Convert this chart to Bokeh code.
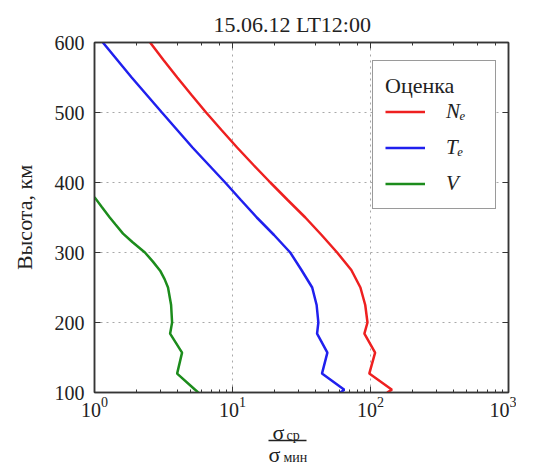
from bokeh.plotting import figure
from bokeh.layouts import column
from bokeh.models import (LogAxis, LinearAxis, Legend, LegendItem,
                          FixedTicker, Range1d, LogTicker)
from bokeh.core.properties import value
from bokeh.embed import file_html
from bokeh.resources import INLINE

# ---- data ----
alt_ne = [600, 575, 550, 525, 500, 475, 450, 425, 400, 375, 350, 325, 300, 275, 250, 225, 200,
          184, 157, 127, 104, 100]
ne = [2.53, 3.16, 3.98, 5.05, 6.44, 8.32, 10.8, 14.2, 18.8, 25.1, 33.7, 44.2, 57.3, 72.6, 84.5,
      91.6, 95.1, 90.3, 108, 98, 143, 132]

alt_te = [600, 550, 500, 450, 400, 375, 350, 325, 300, 275, 250, 225, 200,
          184, 157, 127, 104, 100]
te = [1.15, 1.86, 3.08, 5.13, 8.85, 11.5, 15.0, 20.0, 26.2, 31.6, 37.8, 40.7, 41.9,
      41.0, 48.7, 44.5, 64.6, 60.5]

alt_v = [379, 365, 350, 340, 327, 315, 300, 287, 274, 262, 250, 225, 200, 184, 157, 127, 104, 100]
v = [1.0, 1.13, 1.29, 1.42, 1.61, 1.88, 2.32, 2.65, 2.99, 3.22, 3.41, 3.59, 3.65, 3.53, 4.31,
     3.97, 5.36, 5.64]

series_labels = ["N\u2091", "T\u2091", "V"]
series_colors = ["#ee2020", "#2020ee", "#1c8c1c"]
y_ticks = [100, 200, 300, 400, 500, 600]
title_text = "15.06.12 LT12:00"
y_label = "Высота, км"
legend_title = "Оценка"
frac_big = ["σ", "σ"]          # numerator / denominator symbol
frac_sub = ["ср", "мин"]        # subscripts

SERIF = "Liberation Serif"
AX = "#353535"
TXT = "#222222"
FL, FW, FR = 94, 414, 8         # frame left border, frame width, right border

p = figure(x_axis_type="log", x_range=Range1d(1, 1000), y_range=Range1d(100, 600),
           frame_width=FW, frame_height=350,
           min_border_left=FL, min_border_top=42, min_border_right=FR, min_border_bottom=20,
           output_backend="svg", toolbar_location=None)

p.title.text = title_text
p.title.text_font = SERIF
p.title.text_font_size = "22px"
p.title.text_font_style = "normal"
p.title.align = "left"
p.title.offset = 119
p.title.standoff = 12
p.title.text_color = TXT

p.outline_line_color = AX
p.outline_line_width = 1.5

r_ne = p.line(ne, alt_ne, line_color=series_colors[0], line_width=2.5)
r_te = p.line(te, alt_te, line_color=series_colors[1], line_width=2.5)
r_v = p.line(v, alt_v, line_color=series_colors[2], line_width=2.5)

for ax in p.xaxis:
    ax.major_tick_in = 6
    ax.major_tick_out = 0
    ax.minor_tick_in = 3
    ax.minor_tick_out = 0
    ax.axis_line_color = AX
    ax.axis_line_width = 1.5
    ax.major_tick_line_color = AX
    ax.minor_tick_line_color = AX
    ax.major_label_text_font = SERIF
    ax.major_label_text_font_size = "20px"
    ax.major_label_text_color = TXT
    ax.major_label_standoff = 4

for ax in p.yaxis:
    ax.ticker = FixedTicker(ticks=y_ticks)
    ax.major_tick_in = 6
    ax.major_tick_out = 0
    ax.minor_tick_line_color = None
    ax.axis_line_color = AX
    ax.axis_line_width = 1.5
    ax.major_tick_line_color = AX
    ax.major_label_text_font = SERIF
    ax.major_label_text_font_size = "20px"
    ax.major_label_text_color = TXT
    ax.major_label_standoff = 10
    ax.axis_label = y_label
    ax.axis_label_text_font = SERIF
    ax.axis_label_text_font_size = "22px"
    ax.axis_label_text_font_style = "normal"
    ax.axis_label_text_color = TXT
    ax.axis_label_standoff = 15

top = LogAxis(ticker=LogTicker(), major_tick_in=6, major_tick_out=0, minor_tick_in=3,
              minor_tick_out=0, axis_line_color=AX, axis_line_width=1.5,
              major_tick_line_color=AX, minor_tick_line_color=AX,
              major_label_text_font_size="6px", major_label_text_color=None,
              major_label_standoff=0)
p.add_layout(top, "above")
right = LinearAxis(ticker=FixedTicker(ticks=y_ticks), major_tick_in=6, major_tick_out=0,
                   minor_tick_line_color=None, axis_line_color=AX, axis_line_width=1.5,
                   major_tick_line_color=AX, major_label_text_font_size="6px",
                   major_label_text_color=None, major_label_standoff=0)
p.add_layout(right, "right")

for g in (p.xgrid, p.ygrid):
    g.grid_line_color = "#a8a8a8"
    g.grid_line_dash = "2 4"
    g.grid_line_width = 1
p.ygrid.ticker = FixedTicker(ticks=y_ticks)

legend = Legend(items=[LegendItem(label=series_labels[0], renderers=[r_ne]),
                       LegendItem(label=series_labels[1], renderers=[r_te]),
                       LegendItem(label=series_labels[2], renderers=[r_v])],
                location=(278, 183), title=legend_title,
                title_text_font=SERIF, title_text_font_size="22px", title_text_font_style="normal",
                title_text_color=TXT, title_standoff=0,
                label_text_font=SERIF, label_text_font_style="italic", label_text_font_size="21px",
                label_text_color=TXT, label_standoff=21, label_width=37, label_height=25,
                glyph_width=40, glyph_height=25, spacing=11, padding=12, margin=0,
                border_line_color=AX, border_line_width=1.5, background_fill_color="white",
                background_fill_alpha=1.0)
p.add_layout(legend)

# ---- x-axis label: the fraction sigma_cp / sigma_min, drawn in a strip below ----
H2 = 46
q = figure(frame_width=FW, frame_height=H2, x_range=Range1d(FL, FL + FW), y_range=Range1d(0, H2),
           x_axis_location=None, y_axis_location=None, title_location=None,
           min_border_left=FL, min_border_right=FR, min_border_top=0, min_border_bottom=0,
           output_backend="svg", toolbar_location=None)
q.grid.visible = False
q.outline_line_color = None
q.text(x=[272, 268], y=[33, 11], text=frac_big, text_font=value(SERIF), text_font_size="22px",
       text_baseline="alphabetic", text_align="left", text_color=TXT)
q.text(x=[286, 283], y=[30, 8], text=frac_sub, text_font=value(SERIF), text_font_size="14px",
       text_baseline="alphabetic", text_align="left", text_color=TXT)
q.segment(x0=[268], y0=[25], x1=[306], y1=[25], line_color=TXT, line_width=1.5)

layout = column(p, q, spacing=0)
open("out.html", "w").write(file_html(layout, INLINE))
